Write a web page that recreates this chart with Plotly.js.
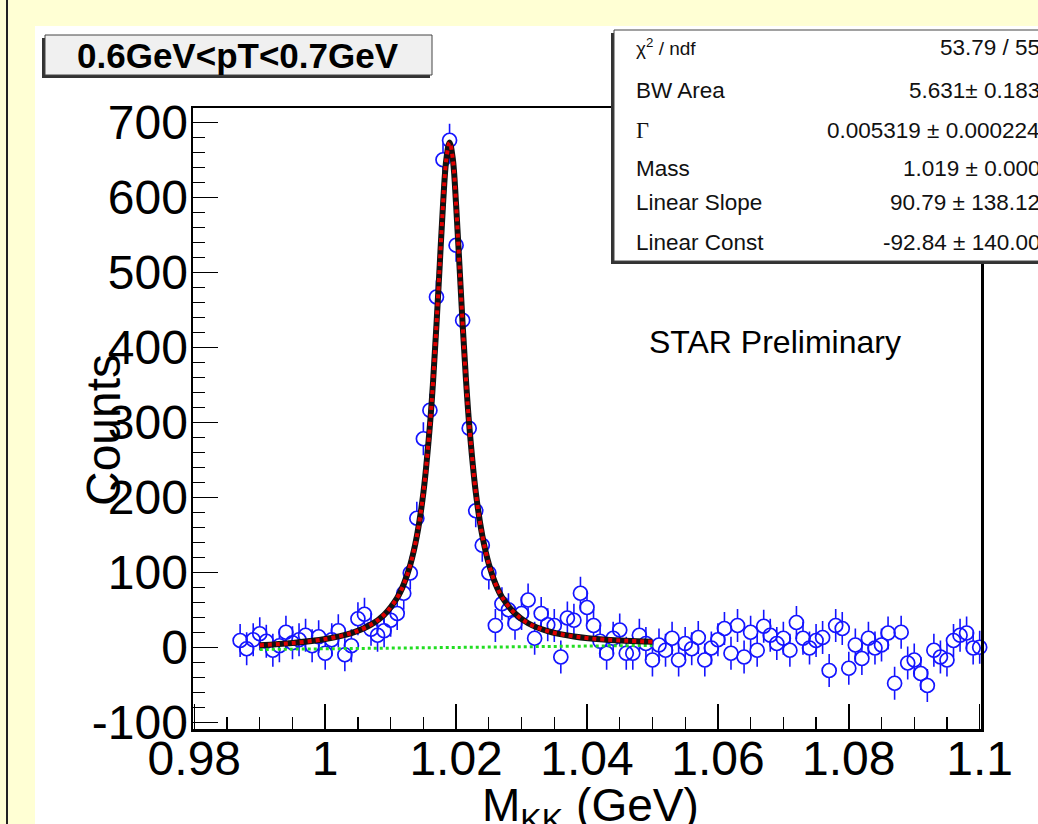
<!DOCTYPE html>
<html>
<head>
<meta charset="utf-8">
<script src="https://cdn.plot.ly/plotly-3.0.1.min.js"></script>
<style>
html,body{margin:0;padding:0;background:#fff;}
#chart{width:1038px;height:824px;}
</style>
</head>
<body>
<div id="chart"></div>
<script>
// ---- data ----
const binCenters = [
0.987,0.988,0.989,0.990,0.991,0.992,0.993,0.994,0.995,0.996,0.997,0.998,0.999,1.000,
1.001,1.002,1.003,1.004,1.005,1.006,1.007,1.008,1.009,1.010,1.011,1.012,1.013,1.014,
1.015,1.016,1.017,1.018,1.019,1.020,1.021,1.022,1.023,1.024,1.025,1.026,1.027,1.028,
1.029,1.030,1.031,1.032,1.033,1.034,1.035,1.036,1.037,1.038,1.039,1.040,1.041,1.042,
1.043,1.044,1.045,1.046,1.047,1.048,1.049,1.050,1.051,1.052,1.053,1.054,1.055,1.056,
1.057,1.058,1.059,1.060,1.061,1.062,1.063,1.064,1.065,1.066,1.067,1.068,1.069,1.070,
1.071,1.072,1.073,1.074,1.075,1.076,1.077,1.078,1.079,1.080,1.081,1.082,1.083,1.084,
1.085,1.086,1.087,1.088,1.089,1.090,1.091,1.092,1.093,1.094,1.095,1.096,1.097,1.098,
1.099,1.100];
const counts = [
9,-2,10,18,8,-4,2,20,6,10,16,2,14,-8,
10,22,-10,2,38,44,24,16,22,36,45,72,99,172,
278,316,467,650,676,536,436,292,182,136,99,29,58,50,
32,45,63,12,45,30,29,-13,39,36,72,53,29,8,
-8,12,23,-8,-8,16,5,-17,3,-4,12,-17,5,-2,
13,-17,-1,10,25,-8,29,-13,20,-4,28,16,5,12,
-4,33,12,-1,9,13,-31,29,25,-28,3,-15,12,-1,
3,19,-48,20,-21,-17,-35,-51,-4,-13,-17,9,16,19,
-1,0];
const countErr = 22;

// fit curve (Breit-Wigner + linear)
const fitX = [0.990,0.995,1.000,1.004,1.007,1.009,1.011,1.012,1.013,1.014,1.015,1.016,1.0165,1.017,1.0175,
              1.018,1.0185,1.019,1.0195,1.020,1.0205,1.021,1.0215,1.022,1.023,1.024,1.025,1.026,1.027,1.029,
              1.031,1.034,1.038,1.043,1.050];
const fitY = [2.7,5.7,10.9,18.9,30.2,43.3,66,84,110,148,206,296,357,430,510,
              590,650,673,651,590,511,430,358,297,207,149,111,85,67,45,
              32,21.5,14.4,10.0,7.4];

// linear background component
const bgX = [0.990, 1.050];
const bgY = [-3.0, 2.5];

const xTickVals = [0.98,1.00,1.02,1.04,1.06,1.08,1.10];
const xTickText = ['0.98','1','1.02','1.04','1.06','1.08','1.1'];
const yTickVals = [-100,0,100,200,300,400,500,600,700];
const yTickText = ['-100','0','100','200','300','400','500','600','700'];

const titleText = '0.6GeV<pT<0.7GeV';
const statNames = ['χ<sup>2</sup> / ndf','BW Area','Γ','Mass','Linear Slope','Linear Const'];
const statValues = ['53.79 / 55','5.631± 0.183','0.005319 ± 0.000224','1.019 ± 0.000','90.79 ± 138.12','-92.84 ± 140.00'];

// ---- layout helpers (pixel -> paper) ----
const L = 193, R = 981, T = 108, B = 729, W = 1038, H = 824;
const px = p => (p - L) / (R - L);
const py = p => (B - p) / (B - T);

// error bar stems outside the open circles
const gap = 9.5;
const ex = [], ey = [];
binCenters.forEach((x, i) => {
  const y = counts[i];
  ex.push(x, x, null, x, x, null);
  ey.push(y + gap, y + countErr, null, y - gap, y - countErr, null);
});

const blue = '#1414ff';
const traces = [
  {x: ex, y: ey, mode: 'lines', line: {color: blue, width: 1.6}, hoverinfo: 'skip', cliponaxis: false},
  {x: binCenters, y: counts, mode: 'markers', cliponaxis: false,
   marker: {symbol: 'circle-open', size: 14, color: blue, line: {color: blue, width: 1.7}}},
  {x: bgX, y: bgY, mode: 'lines', line: {color: '#22dd22', width: 3, dash: 'dot'}},
  {x: fitX, y: fitY, mode: 'lines', line: {color: '#111111', width: 6, shape: 'spline'}},
  {x: fitX, y: fitY, mode: 'lines', line: {color: '#e00000', width: 4, shape: 'spline', dash: 'dot'}}
];

const statRowsY = [47, 90, 130, 168, 202, 243];
const annotations = [];
statNames.forEach((n, i) => {
  annotations.push({xref: 'paper', yref: 'paper', x: px(634), y: py(statRowsY[i]), xanchor: 'left', yanchor: 'middle',
    text: n, showarrow: false,
    font: {family: i === 2 ? 'Liberation Serif' : 'Liberation Sans', size: i === 0 ? 19 : 22.5, color: '#111'}});
  annotations.push({xref: 'paper', yref: 'paper', x: px(1042), y: py(statRowsY[i]), xanchor: 'right', yanchor: 'middle',
    text: statValues[i], showarrow: false, font: {family: 'Liberation Sans', size: 22.5, color: '#111'}});
});
annotations.push({xref: 'paper', yref: 'paper', x: px(238), y: py(55), xanchor: 'center', yanchor: 'middle',
  text: '<b>' + titleText.replace(/</g, '&lt;') + '</b>', showarrow: false,
  font: {family: 'Liberation Sans', size: 35, color: '#000'}});
annotations.push({xref: 'paper', yref: 'paper', x: px(647), y: py(342), xanchor: 'left', yanchor: 'middle',
  text: 'STAR Preliminary', showarrow: false, font: {family: 'Liberation Sans', size: 32, color: '#000'}});
annotations.push({xref: 'paper', yref: 'paper', x: px(103), y: py(430), xanchor: 'center', yanchor: 'middle',
  text: 'Counts', textangle: -90, showarrow: false, font: {family: 'Liberation Sans', size: 48, color: '#000'}});
annotations.push({xref: 'paper', yref: 'paper', x: px(590), y: py(808), xanchor: 'center', yanchor: 'middle',
  text: 'M<sub>KK</sub> (GeV)', showarrow: false, font: {family: 'Liberation Sans', size: 46, color: '#000'}});

const shapes = [
  // yellow outer frame
  {type: 'rect', xref: 'paper', yref: 'paper', x0: px(-5), x1: px(35), y0: py(H + 5), y1: py(-5), fillcolor: '#ffffd4', line: {width: 0}, layer: 'below'},
  {type: 'rect', xref: 'paper', yref: 'paper', x0: px(-5), x1: px(W + 5), y0: py(26), y1: py(-5), fillcolor: '#ffffd4', line: {width: 0}, layer: 'below'},
  {type: 'line', xref: 'paper', yref: 'paper', x0: px(7), x1: px(7), y0: py(H + 5), y1: py(-5), line: {color: '#222', width: 2}, layer: 'below'},
  // title box shadow + box
  {type: 'rect', xref: 'paper', yref: 'paper', x0: px(42), x1: px(430), y0: py(78), y1: py(38), fillcolor: '#333', line: {width: 0}},
  {type: 'rect', xref: 'paper', yref: 'paper', x0: px(45), x1: px(432), y0: py(75), y1: py(35), fillcolor: '#f0f0f0', line: {color: '#444', width: 1}},
  // stats box shadow + box
  {type: 'rect', xref: 'paper', yref: 'paper', x0: px(611), x1: px(1045), y0: py(264), y1: py(33), fillcolor: '#333', line: {width: 0}},
  {type: 'rect', xref: 'paper', yref: 'paper', x0: px(614), x1: px(1045), y0: py(261), y1: py(30), fillcolor: '#ffffff', line: {color: '#444', width: 1}}
];

const axisFont = {family: 'Liberation Sans', size: 48, color: '#000'};
const layout = {
  width: W, height: H,
  margin: {l: L, r: W - R, t: T, b: H - B, pad: 0},
  paper_bgcolor: '#ffffff', plot_bgcolor: '#ffffff',
  showlegend: false,
  xaxis: {
    range: [0.9798, 1.1002], showgrid: false, zeroline: false,
    showline: true, linecolor: '#000', linewidth: 2.5, mirror: true,
    ticks: 'inside', ticklen: 25, tickwidth: 1.5, tickcolor: '#000',
    tickvals: xTickVals, ticktext: xTickText, tickfont: axisFont, ticklabelstandoff: -14,
    minor: {dtick: 0.005, tick0: 0.98, ticks: 'inside', ticklen: 12, tickwidth: 1.2, tickcolor: '#000'}
  },
  yaxis: {
    range: [-109, 719], showgrid: false, zeroline: false,
    showline: true, linecolor: '#000', linewidth: 2.5, mirror: true,
    ticks: 'inside', ticklen: 25, tickwidth: 1.5, tickcolor: '#000',
    tickvals: yTickVals, ticktext: yTickText, tickfont: axisFont, ticklabelstandoff: -7,
    minor: {dtick: 20, tick0: 0, ticks: 'inside', ticklen: 12, tickwidth: 1.2, tickcolor: '#000'}
  },
  shapes: shapes,
  annotations: annotations
};

Plotly.newPlot('chart', traces, layout, {staticPlot: true, displayModeBar: false});
</script>
</body>
</html>
